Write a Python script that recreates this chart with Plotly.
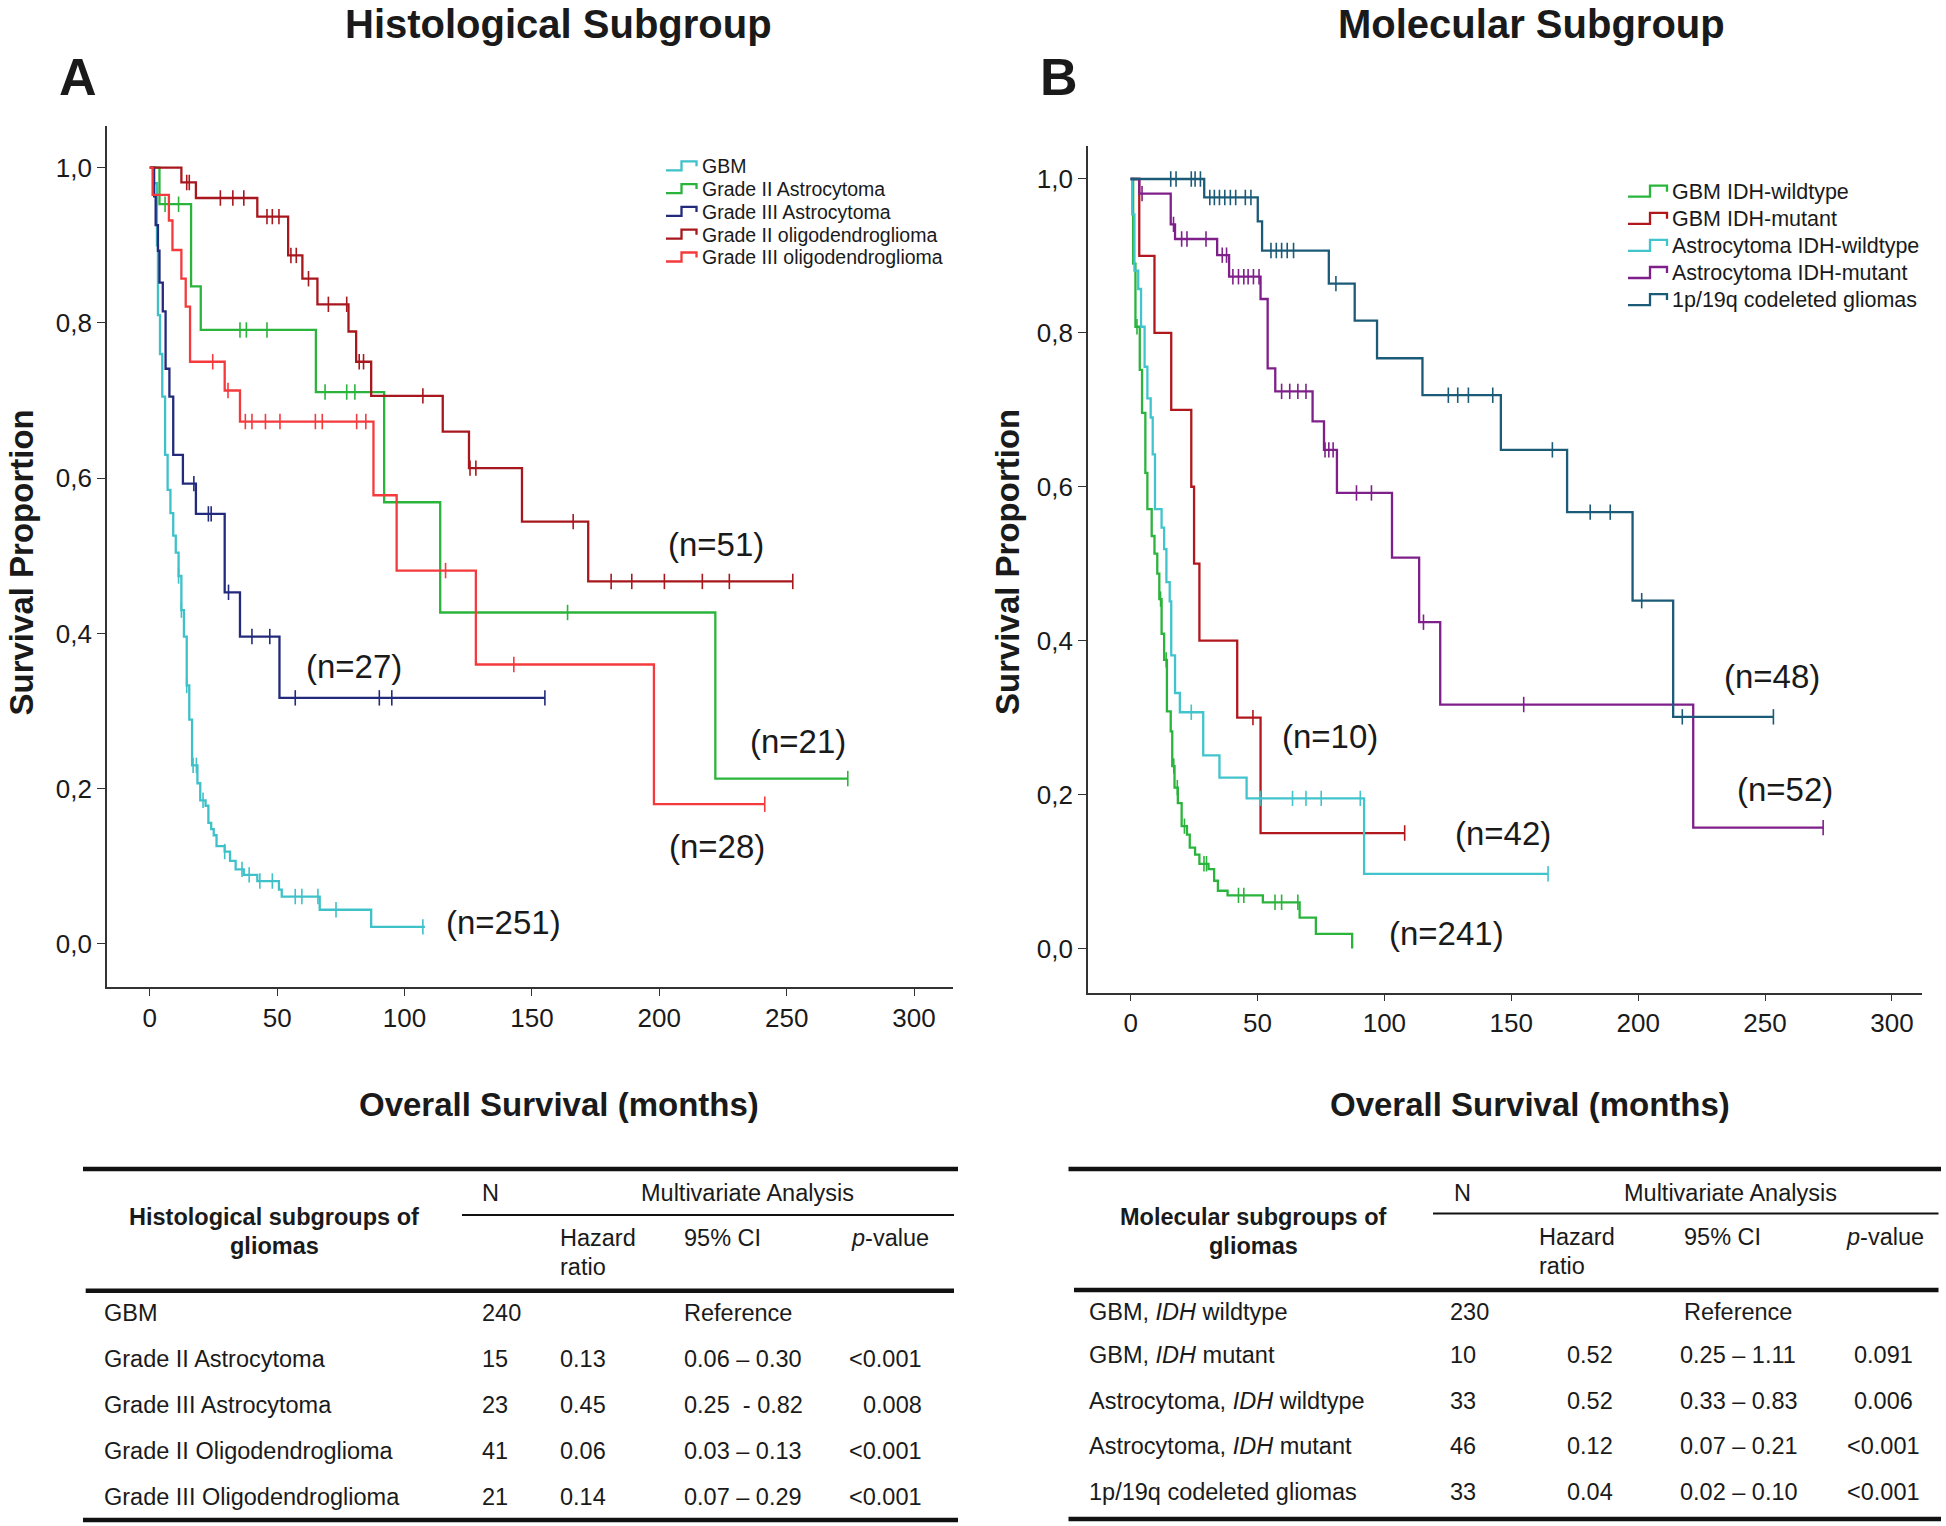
import plotly.graph_objects as go

W, H = 1946, 1526
FONT = "Liberation Sans, Arial, sans-serif"

# ---------------- Panel A data (Histological subgroups) ----------------
a_names = ["GBM", "Grade II Astrocytoma", "Grade III Astrocytoma",
           "Grade II oligodendroglioma", "Grade III oligodendroglioma"]
a_colors = ["#3fc1c9", "#2bb43c", "#232a7c", "#a8171d", "#f43a3d"]

a_gbm_t = [1.5, 2.8, 3.2, 4.0, 4.9, 6.0, 7.0, 8.1, 9.2, 10.2, 11.3, 12.4, 13.4, 14.5, 15.5, 16.6,
           18.7, 19.8, 21.9, 23.0, 24.1, 25.1, 26.2, 29.4, 31.5, 33.7, 36.9, 42.2, 50.7, 51.8, 66.7, 86.9]
a_gbm_s = [0.98, 0.90, 0.81, 0.76, 0.705, 0.63, 0.585, 0.555, 0.526, 0.504, 0.474, 0.43, 0.396, 0.333,
           0.289, 0.23, 0.207, 0.185, 0.178, 0.156, 0.148, 0.14, 0.126, 0.119, 0.107, 0.096, 0.089,
           0.081, 0.07, 0.061, 0.044, 0.022]
a_gbm_c = [11.3, 12.4, 14.5, 17.0, 18.3, 20.9, 29.4, 36.2, 39.0, 43.2, 48.1, 57.1, 59.7, 66.0, 73.1, 107.2]
a_gbm_end = 108.0

a_ast2_t = [3.8, 16.2, 20.0, 65.2, 92.0, 114.0, 222.0]
a_ast2_s = [0.953, 0.847, 0.791, 0.711, 0.569, 0.427, 0.213]
a_ast2_c = [6.0, 11.3, 35.4, 37.9, 46.0, 68.8, 77.3, 80.5, 164.0, 274.0]
a_ast2_end = 274.0

a_ast3_t = [1.7, 2.3, 3.2, 3.8, 5.1, 6.2, 7.7, 9.2, 13.0, 18.1, 29.4, 35.4, 50.9]
a_ast3_s = [0.963, 0.926, 0.893, 0.852, 0.815, 0.741, 0.705, 0.63, 0.593, 0.554, 0.453, 0.396, 0.317]
a_ast3_c = [17.3, 23.0, 24.1, 30.9, 40.1, 47.1, 57.1, 90.1, 95.0, 155.1]
a_ast3_end = 155.1

a_oli2_t = [12.4, 18.1, 42.2, 54.3, 59.9, 65.8, 78.0, 81.0, 86.9, 115.0, 125.3, 146.1, 172.1]
a_oli2_s = [0.981, 0.961, 0.937, 0.887, 0.857, 0.824, 0.789, 0.750, 0.706, 0.66, 0.613, 0.544, 0.467]
a_oli2_c = [14.5, 15.5, 27.7, 32.6, 36.9, 46.0, 48.1, 50.7, 55.4, 57.5, 62.3, 70.1, 77.3, 82.2, 83.9,
            107.2, 125.7, 128.0, 166.2, 181.1, 189.2, 202.0, 216.9, 227.5, 252.4]
a_oli2_end = 252.4

a_oli3_t = [1.1, 7.5, 8.9, 12.4, 14.1, 15.8, 29.4, 35.4, 87.8, 96.9, 128.0, 197.9]
a_oli3_s = [0.965, 0.932, 0.894, 0.857, 0.821, 0.750, 0.713, 0.673, 0.578, 0.481, 0.36, 0.18]
a_oli3_c = [24.7, 30.7, 37.5, 40.1, 45.4, 51.1, 65.0, 67.7, 81.2, 84.8, 116.1, 142.9, 241.4]
a_oli3_end = 241.4

a_n_text = ["(n=51)", "(n=27)", "(n=21)", "(n=28)", "(n=251)"]
a_n_x = [222.3, 80.2, 254.4, 222.6, 139.0]
a_n_y = [0.515, 0.358, 0.261, 0.126, 0.028]

# ---------------- Panel B data (Molecular subgroups) ----------------
b_names = ["GBM IDH-wildtype", "GBM IDH-mutant", "Astrocytoma IDH-wildtype",
           "Astrocytoma IDH-mutant", "1p/19q codeleted gliomas"]
b_colors = ["#2bb43c", "#b0181e", "#41c4cc", "#7f1f8a", "#1b5b78"]

b_gwt_t = [1.0, 1.9, 3.6, 4.5, 5.8, 6.6, 8.3, 9.4, 10.5, 11.3, 12.2, 13.2, 14.3, 15.8, 16.4, 17.3,
           18.6, 20.1, 22.2, 23.3, 25.4, 27.1, 30.7, 32.9, 34.4, 38.2, 52.1, 66.6, 73.0, 87.3]
b_gwt_s = [0.89, 0.808, 0.752, 0.696, 0.618, 0.571, 0.536, 0.513, 0.487, 0.454, 0.409, 0.375, 0.308,
           0.282, 0.237, 0.209, 0.189, 0.159, 0.148, 0.131, 0.122, 0.110, 0.103, 0.088, 0.075, 0.069,
           0.060, 0.040, 0.019, 0.0]
b_gwt_c = [2.5, 11.8, 14.0, 17.0, 18.4, 21.2, 28.9, 29.9, 42.5, 44.6, 56.9, 59.5, 65.9]
b_gwt_end = 87.3

b_gmu_t = [3.4, 9.4, 16.0, 23.9, 25.0, 27.1, 42.0, 51.2]
b_gmu_s = [0.9, 0.8, 0.7, 0.6, 0.5, 0.4, 0.3, 0.15]
b_gmu_c = [48.2, 108.0]
b_gmu_end = 108.0

b_awt_t = [0.6, 1.5, 3.0, 4.1, 5.5, 6.6, 7.9, 8.7, 9.6, 12.2, 13.2, 14.1, 15.4, 16.0, 17.5, 19.4,
           28.6, 35.0, 45.7, 92.0]
b_awt_s = [0.954, 0.881, 0.857, 0.808, 0.756, 0.715, 0.69, 0.642, 0.571, 0.547, 0.519, 0.476,
           0.451, 0.381, 0.332, 0.307, 0.251, 0.222, 0.195, 0.097]
b_awt_c = [23.9, 51.0, 63.8, 69.1, 75.1, 90.5, 164.5]
b_awt_end = 164.5

b_amu_t = [3.4, 15.8, 17.5, 34.1, 38.8, 51.2, 54.0, 57.0, 71.7, 76.2, 81.3, 103.0, 113.7, 122.0, 221.7]
b_amu_s = [0.981, 0.941, 0.922, 0.901, 0.873, 0.844, 0.754, 0.724, 0.685, 0.648, 0.592, 0.508,
           0.424, 0.317, 0.157]
b_amu_c = [4.5, 16.9, 20.1, 22.2, 29.7, 36.1, 37.8, 40.3, 42.5, 44.6, 46.3, 48.4, 50.6, 59.5, 62.7,
           65.9, 69.1, 76.6, 78.1, 79.8, 89.0, 94.9, 115.4, 154.9, 272.9]
b_amu_end = 272.9

b_cod_t = [29.0, 50.1, 51.8, 78.1, 88.3, 97.1, 115.0, 145.9, 172.0, 197.8, 213.8]
b_cod_s = [0.976, 0.945, 0.907, 0.864, 0.816, 0.767, 0.719, 0.648, 0.567, 0.452, 0.301]
b_cod_c = [15.8, 17.9, 23.9, 25.4, 27.5, 31.2, 33.0, 35.0, 37.1, 39.3, 41.4, 45.2, 47.4, 55.3, 57.4,
           59.5, 61.7, 64.2, 80.9, 125.2, 128.9, 133.1, 142.7, 166.2, 181.1, 189.0, 201.4, 217.4, 253.3]
b_cod_end = 253.3

b_n_text = ["(n=48)", "(n=52)", "(n=10)", "(n=42)", "(n=241)"]
b_n_x = [252.7, 257.8, 78.5, 146.7, 124.6]
b_n_y = [0.354, 0.207, 0.275, 0.149, 0.019]

# ---------------- Tables ----------------
ta_rows = ["GBM", "Grade II Astrocytoma", "Grade III Astrocytoma",
           "Grade II Oligodendroglioma", "Grade III Oligodendroglioma"]
ta_n = ["240", "15", "23", "41", "21"]
ta_hr = ["", "0.13", "0.45", "0.06", "0.14"]
ta_ci = ["Reference", "0.06 – 0.30", "0.25  - 0.82", "0.03 – 0.13", "0.07 – 0.29"]
ta_p = ["", "&lt;0.001", "0.008", "&lt;0.001", "&lt;0.001"]

tb_rows = ["GBM, <i>IDH</i> wildtype", "GBM, <i>IDH</i> mutant", "Astrocytoma, <i>IDH</i> wildtype",
           "Astrocytoma, <i>IDH</i> mutant", "1p/19q codeleted gliomas"]
tb_n = ["230", "10", "33", "46", "33"]
tb_hr = ["", "0.52", "0.52", "0.12", "0.04"]
tb_ci = ["Reference", "0.25 – 1.11", "0.33 – 0.83", "0.07 – 0.21", "0.02 – 0.10"]
tb_p = ["", "0.091", "0.006", "&lt;0.001", "&lt;0.001"]

xticks = [0, 50, 100, 150, 200, 250, 300]
yticks = [0.0, 0.2, 0.4, 0.6, 0.8, 1.0]


def px(x):
    return x / W


def py(y):
    return 1 - y / H


def surv_at(t, times, surv):
    s = 1.0
    for tt, ss in zip(times, surv):
        if tt <= t:
            s = ss
    return s


fig = go.Figure()


def add_curve(times, surv, cens, end, color, xa, ya):
    xs = [0.0] + list(times) + [end]
    ys = [1.0] + list(surv) + [surv[-1]]
    fig.add_trace(go.Scatter(x=xs, y=ys, mode="lines", line=dict(color=color, width=2.3, shape="hv"),
                             xaxis=xa, yaxis=ya, showlegend=False, hoverinfo="skip"))
    cy = [surv_at(c, times, surv) for c in cens]
    fig.add_trace(go.Scatter(x=list(cens), y=cy, mode="markers",
                             marker=dict(symbol="line-ns", size=11, color=color,
                                         line=dict(color=color, width=1.6)),
                             xaxis=xa, yaxis=ya, showlegend=False, hoverinfo="skip"))


a_series = [(a_gbm_t, a_gbm_s, a_gbm_c, a_gbm_end), (a_ast2_t, a_ast2_s, a_ast2_c, a_ast2_end),
            (a_ast3_t, a_ast3_s, a_ast3_c, a_ast3_end), (a_oli2_t, a_oli2_s, a_oli2_c, a_oli2_end),
            (a_oli3_t, a_oli3_s, a_oli3_c, a_oli3_end)]
b_series = [(b_gwt_t, b_gwt_s, b_gwt_c, b_gwt_end), (b_gmu_t, b_gmu_s, b_gmu_c, b_gmu_end),
            (b_awt_t, b_awt_s, b_awt_c, b_awt_end), (b_amu_t, b_amu_s, b_amu_c, b_amu_end),
            (b_cod_t, b_cod_s, b_cod_c, b_cod_end)]

for (t, s, c, e), col in zip(a_series, a_colors):
    add_curve(t, s, c, e, col, "x", "y")
for (t, s, c, e), col in zip(b_series, b_colors):
    add_curve(t, s, c, e, col, "x2", "y2")

axis_common = dict(showgrid=False, zeroline=False, showline=True, linecolor="#333333", linewidth=1.6,
                   ticks="outside", tickcolor="#333333", tickwidth=1.4,
                   tickfont=dict(family=FONT, size=26, color="#1a1a1a"))

fig.update_layout(
    width=W, height=H, margin=dict(l=0, r=0, t=0, b=0),
    paper_bgcolor="white", plot_bgcolor="white", separators=",.",
    font=dict(family=FONT, color="#1a1a1a"),
    xaxis=dict(domain=[px(107), px(953)], range=[-16.8, 315.3], tickvals=xticks, ticklen=7,
               anchor="y", **axis_common),
    yaxis=dict(domain=[py(987), py(125.8)], range=[-0.0555, 1.054], tickvals=yticks, tickformat=".1f",
               ticklen=8, anchor="x", **axis_common),
    xaxis2=dict(domain=[px(1088), px(1921.6)], range=[-16.8, 311.7], tickvals=xticks, ticklen=6,
                anchor="y2", **axis_common),
    yaxis2=dict(domain=[py(992.7), py(145.9)], range=[-0.0575, 1.043], tickvals=yticks,
                tickformat=".1f", ticklen=8, anchor="x2", **axis_common),
)

ann = []
shapes = []


def text(x, y, s, size, xanchor="center", bold=False, angle=0, xref="paper", yref="paper",
         yanchor="middle"):
    if bold:
        s = "<b>" + s + "</b>"
    d = dict(x=x, y=y, xref=xref, yref=yref, text=s, showarrow=False, xanchor=xanchor,
             yanchor=yanchor, font=dict(family=FONT, size=size, color="#1a1a1a"))
    if angle:
        d["textangle"] = angle
    ann.append(d)


# Titles and panel letters
text(px(558), py(0), "Histological Subgroup", 40, bold=True, yanchor="top")
text(px(1531), py(0), "Molecular Subgroup", 40, bold=True, yanchor="top")
text(px(78), py(77), "A", 52, bold=True)
text(px(1059), py(77), "B", 52, bold=True)

# Axis titles
text(px(0), py(563), "Survival Proportion", 33, bold=True, angle=-90, xanchor="left")
text(px(1007), py(562), "Survival Proportion", 33, bold=True, angle=-90)
text(px(558.5), py(1104.5), "Overall Survival (months)", 33, bold=True)
text(px(1530), py(1104.5), "Overall Survival (months)", 33, bold=True)

# n labels (data coordinates)
for s, x, y in zip(a_n_text, a_n_x, a_n_y):
    text(x, y, s, 33, xref="x", yref="y")
for s, x, y in zip(b_n_text, b_n_x, b_n_y):
    text(x, y, s, 33, xref="x2", yref="y2")


# Custom legends with step-shaped icons
def legend(names, colors, x0, xm, x1, xtext, y0, dy, lo, hi, size):
    for i, (nm, col) in enumerate(zip(names, colors)):
        yc = y0 + i * dy
        path = "M {} {} L {} {} L {} {} L {} {} L {} {}".format(
            px(x0), py(yc + lo), px(xm), py(yc + lo), px(xm), py(yc - hi), px(x1), py(yc - hi),
            px(x1), py(yc))
        shapes.append(dict(type="path", path=path, xref="paper", yref="paper",
                           line=dict(color=col, width=2.3)))
        text(px(xtext), py(yc), nm, size, xanchor="left")


legend(a_names, a_colors, 666, 681.5, 696.5, 700, 166.3, 22.8, 4, 5, 19.5)
legend(b_names, b_colors, 1628, 1650, 1667, 1670, 191.7, 27.1, 5, 6, 21.5)


# Tables
def hline(x0, x1, y, w):
    shapes.append(dict(type="line", xref="paper", yref="paper", x0=px(x0), x1=px(x1), y0=py(y), y1=py(y),
                       line=dict(color="#111111", width=w)))


TS = 23.5
# Table A
hline(83, 958, 1169, 4.5)
hline(462, 954, 1215, 2)
hline(85.7, 954, 1290.7, 4.5)
hline(83, 958, 1520, 4.5)
text(px(480), py(1193), "N", TS, xanchor="left")
text(px(747), py(1193), "Multivariate Analysis", TS)
text(px(274), py(1217), "Histological subgroups of", TS, bold=True)
text(px(274), py(1246), "gliomas", TS, bold=True)
text(px(557.6), py(1238), "Hazard", TS, xanchor="left")
text(px(557.6), py(1267), "ratio", TS, xanchor="left")
text(px(681.6), py(1238), "95% CI", TS, xanchor="left")
text(px(849), py(1238), "<i>p</i>-value", TS, xanchor="left")
ta_y = [1313, 1359, 1405, 1451, 1497]
for i, yy in enumerate(ta_y):
    text(px(102), py(yy), ta_rows[i], TS, xanchor="left")
    text(px(480), py(yy), ta_n[i], TS, xanchor="left")
    if ta_hr[i]:
        text(px(557.6), py(yy), ta_hr[i], TS, xanchor="left")
    text(px(681.6), py(yy), ta_ci[i], TS, xanchor="left")
    if ta_p[i]:
        text(px(923.8), py(yy), ta_p[i], TS, xanchor="right")

# Table B
hline(1068.5, 1941, 1169, 4.5)
hline(1433, 1938.5, 1213.5, 2)
hline(1074, 1938.5, 1290, 4.5)
hline(1068.5, 1941, 1519, 4.5)
text(px(1452), py(1193), "N", TS, xanchor="left")
text(px(1730.6), py(1193), "Multivariate Analysis", TS)
text(px(1253.8), py(1217), "Molecular subgroups of", TS, bold=True)
text(px(1253.8), py(1246), "gliomas", TS, bold=True)
text(px(1537.4), py(1237), "Hazard", TS, xanchor="left")
text(px(1537.4), py(1266), "ratio", TS, xanchor="left")
text(px(1681.5), py(1237), "95% CI", TS, xanchor="left")
text(px(1844.2), py(1237), "<i>p</i>-value", TS, xanchor="left")
tb_y = [1311.7, 1355, 1401, 1446, 1491.7]
for i, yy in enumerate(tb_y):
    text(px(1087), py(yy), tb_rows[i], TS, xanchor="left")
    text(px(1448), py(yy), tb_n[i], TS, xanchor="left")
    if tb_hr[i]:
        text(px(1615.4), py(yy), tb_hr[i], TS, xanchor="right")
    text(px(1677.5 if i else 1681.5), py(yy), tb_ci[i], TS, xanchor="left")
    if tb_p[i]:
        text(px(1883.7), py(yy), tb_p[i], TS)

fig.update_layout(annotations=ann, shapes=shapes)
fig.write_html("out.html", config={"displayModeBar": False},
               post_script="document.body.style.margin='0';"
                           "document.documentElement.style.overflow='hidden';")
